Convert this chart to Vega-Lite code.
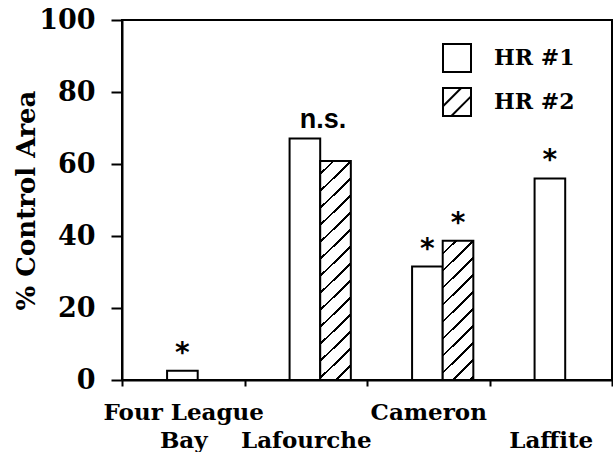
{
  "$schema": "https://vega.github.io/schema/vega-lite/v6.json",
  "width": 490,
  "height": 360,
  "autosize": {"type": "none"},
  "padding": {"left": 122, "top": 20, "right": 1, "bottom": 72},
  "background": "white",
  "config": {"view": {"stroke": "black", "strokeWidth": 2}, "font": "DejaVu Serif"},
  "data": {
    "values": [
      {"site": "Four League Bay", "series": "HR #1", "value": 2.6, "note": "*"},
      {"site": "Lafourche", "series": "HR #1", "value": 67.1, "note": "n.s."},
      {"site": "Lafourche", "series": "HR #2", "value": 60.8, "note": ""},
      {"site": "Cameron", "series": "HR #1", "value": 31.5, "note": "*"},
      {"site": "Cameron", "series": "HR #2", "value": 38.7, "note": "*"},
      {"site": "Laffite", "series": "HR #1", "value": 56.0, "note": "*"}
    ]
  },
  "encoding": {
    "x": {
      "field": "site",
      "type": "nominal",
      "sort": ["Four League Bay", "Lafourche", "Cameron", "Laffite"],
      "scale": {"paddingInner": 0, "paddingOuter": 0},
      "axis": {
        "title": null,
        "tickBand": "extent",
        "tickSize": 6,
        "tickWidth": 2,
        "tickColor": "black",
        "domainColor": "black",
        "domainWidth": 2,
        "labelAngle": 0,
        "labelFont": "DejaVu Serif",
        "labelFontWeight": "bold",
        "labelFontSize": 23,
        "labelColor": "black",
        "labelBaseline": "alphabetic",
        "labelPadding": 33,
        "labelLineHeight": 28,
        "labelOverlap": false,
        "labelLimit": 0,
        "labelExpr": "datum.value == 'Four League Bay' ? ['Four League', 'Bay'] : datum.value == 'Lafourche' ? ['', 'Lafourche'] : datum.value == 'Laffite' ? ['', 'Laffite'] : datum.value",
        "encode": {
          "labels": {
            "update": {
              "dx": {"signal": "datum.value == 'Four League Bay' ? 4 : datum.value == 'Lafourche' ? 19 : datum.value == 'Cameron' ? 25 : 0"}
            }
          }
        }
      }
    },
    "xOffset": {
      "field": "series",
      "type": "nominal",
      "scale": {"domain": ["HR #1", "HR #2"], "paddingInner": 0, "paddingOuter": 1.0417, "align": 0.736}
    },
    "y": {
      "field": "value",
      "type": "quantitative",
      "scale": {"domain": [0, 100]},
      "axis": {
        "values": [0, 20, 40, 60, 80, 100],
        "title": "% Control Area",
        "grid": false,
        "domainColor": "black",
        "domainWidth": 2,
        "tickColor": "black",
        "tickWidth": 2,
        "tickSize": 11,
        "labelPadding": 16,
        "labelFont": "DejaVu Serif",
        "labelFontWeight": "bold",
        "labelFontSize": 27,
        "labelColor": "black",
        "titleFont": "DejaVu Serif",
        "titleFontWeight": "bold",
        "titleFontSize": 26,
        "titleColor": "black",
        "titlePadding": -1
      }
    }
  },
  "layer": [
    {
      "mark": {"type": "point", "opacity": 0, "size": 1},
      "encoding": {
        "shape": {
          "field": "series",
          "type": "nominal",
          "scale": {
            "domain": ["HR #1", "HR #2"],
            "range": ["M-1,-1H1V1H-1Z", "M-1,-1H1V1H-1Z M-1,0.3L0.3,-1 M-0.4,1L1,-0.4"]
          },
          "legend": {
            "title": null,
            "orient": "none",
            "legendX": 320,
            "legendY": 23,
            "direction": "vertical",
            "padding": 0,
            "symbolSize": 784,
            "symbolStrokeWidth": 2,
            "symbolFillColor": "white",
            "symbolStrokeColor": "black",
            "labelFont": "DejaVu Serif",
            "labelFontWeight": "bold",
            "labelFontSize": 22,
            "labelColor": "black",
            "labelOffset": 22,
            "rowPadding": 8,
            "encode": {
              "symbols": {
                "update": {
                  "opacity": {"value": 1},
                  "fill": {"value": "white"},
                  "stroke": {"value": "black"},
                  "strokeWidth": {"value": 2},
                  "size": {"value": 784}
                }
              }
            }
          }
        }
      }
    },
    {
      "mark": {"type": "bar", "stroke": "black", "strokeWidth": 2},
      "encoding": {
        "fill": {
          "condition": [
            {
              "test": "datum.series == 'HR #2' && datum.site == 'Lafourche'",
              "value": {
                "gradient": "linear", "x1": 0, "y1": 0, "x2": 0.15296, "y2": 1.1161,
                "stops": [
                  {"offset": 0, "color": "white"},
                  {"offset": 0.04661, "color": "white"}, {"offset": 0.04661, "color": "black"}, {"offset": 0.05786, "color": "black"}, {"offset": 0.05786, "color": "white"},
                  {"offset": 0.11491, "color": "white"}, {"offset": 0.11491, "color": "black"}, {"offset": 0.12616, "color": "black"}, {"offset": 0.12616, "color": "white"},
                  {"offset": 0.18321, "color": "white"}, {"offset": 0.18321, "color": "black"}, {"offset": 0.19446, "color": "black"}, {"offset": 0.19446, "color": "white"},
                  {"offset": 0.25151, "color": "white"}, {"offset": 0.25151, "color": "black"}, {"offset": 0.26276, "color": "black"}, {"offset": 0.26276, "color": "white"},
                  {"offset": 0.31981, "color": "white"}, {"offset": 0.31981, "color": "black"}, {"offset": 0.33106, "color": "black"}, {"offset": 0.33106, "color": "white"},
                  {"offset": 0.38811, "color": "white"}, {"offset": 0.38811, "color": "black"}, {"offset": 0.39936, "color": "black"}, {"offset": 0.39936, "color": "white"},
                  {"offset": 0.45641, "color": "white"}, {"offset": 0.45641, "color": "black"}, {"offset": 0.46766, "color": "black"}, {"offset": 0.46766, "color": "white"},
                  {"offset": 0.52471, "color": "white"}, {"offset": 0.52471, "color": "black"}, {"offset": 0.53596, "color": "black"}, {"offset": 0.53596, "color": "white"},
                  {"offset": 0.59301, "color": "white"}, {"offset": 0.59301, "color": "black"}, {"offset": 0.60426, "color": "black"}, {"offset": 0.60426, "color": "white"},
                  {"offset": 0.66131, "color": "white"}, {"offset": 0.66131, "color": "black"}, {"offset": 0.67256, "color": "black"}, {"offset": 0.67256, "color": "white"},
                  {"offset": 0.72961, "color": "white"}, {"offset": 0.72961, "color": "black"}, {"offset": 0.74086, "color": "black"}, {"offset": 0.74086, "color": "white"},
                  {"offset": 0.79791, "color": "white"}, {"offset": 0.79791, "color": "black"}, {"offset": 0.80916, "color": "black"}, {"offset": 0.80916, "color": "white"},
                  {"offset": 0.86621, "color": "white"}, {"offset": 0.86621, "color": "black"}, {"offset": 0.87746, "color": "black"}, {"offset": 0.87746, "color": "white"},
                  {"offset": 0.93451, "color": "white"}, {"offset": 0.93451, "color": "black"}, {"offset": 0.94576, "color": "black"}, {"offset": 0.94576, "color": "white"},
                  {"offset": 1, "color": "white"}
                ]
              }
            },
            {
              "test": "datum.series == 'HR #2' && datum.site == 'Cameron'",
              "value": {
                "gradient": "linear", "x1": 0, "y1": 0, "x2": 0.25015, "y2": 1.1615,
                "stops": [
                  {"offset": 0, "color": "white"},
                  {"offset": 0.06852, "color": "white"}, {"offset": 0.06852, "color": "black"}, {"offset": 0.08506, "color": "black"}, {"offset": 0.08506, "color": "white"},
                  {"offset": 0.16893, "color": "white"}, {"offset": 0.16893, "color": "black"}, {"offset": 0.18547, "color": "black"}, {"offset": 0.18547, "color": "white"},
                  {"offset": 0.26934, "color": "white"}, {"offset": 0.26934, "color": "black"}, {"offset": 0.28588, "color": "black"}, {"offset": 0.28588, "color": "white"},
                  {"offset": 0.36975, "color": "white"}, {"offset": 0.36975, "color": "black"}, {"offset": 0.38629, "color": "black"}, {"offset": 0.38629, "color": "white"},
                  {"offset": 0.47017, "color": "white"}, {"offset": 0.47017, "color": "black"}, {"offset": 0.48671, "color": "black"}, {"offset": 0.48671, "color": "white"},
                  {"offset": 0.57058, "color": "white"}, {"offset": 0.57058, "color": "black"}, {"offset": 0.58712, "color": "black"}, {"offset": 0.58712, "color": "white"},
                  {"offset": 0.67099, "color": "white"}, {"offset": 0.67099, "color": "black"}, {"offset": 0.68753, "color": "black"}, {"offset": 0.68753, "color": "white"},
                  {"offset": 0.77141, "color": "white"}, {"offset": 0.77141, "color": "black"}, {"offset": 0.78795, "color": "black"}, {"offset": 0.78795, "color": "white"},
                  {"offset": 0.87182, "color": "white"}, {"offset": 0.87182, "color": "black"}, {"offset": 0.88836, "color": "black"}, {"offset": 0.88836, "color": "white"},
                  {"offset": 0.97223, "color": "white"}, {"offset": 0.97223, "color": "black"}, {"offset": 0.98877, "color": "black"}, {"offset": 0.98877, "color": "white"},
                  {"offset": 1, "color": "white"}
                ]
              }
            }
          ],
          "value": "white"
        }
      }
    },
    {
      "transform": [{"filter": "datum.note == '*'"}],
      "mark": {"type": "text", "font": "DejaVu Sans", "fontWeight": "bold", "fontSize": 28, "baseline": "alphabetic", "dy": -9, "color": "black"},
      "encoding": {"text": {"field": "note"}}
    },
    {
      "transform": [{"filter": "datum.note == 'n.s.'"}],
      "mark": {"type": "text", "font": "Liberation Sans", "fontWeight": "bold", "fontSize": 27, "baseline": "alphabetic", "dx": 18, "dy": -10, "color": "black"},
      "encoding": {"text": {"field": "note"}}
    }
  ]
}
